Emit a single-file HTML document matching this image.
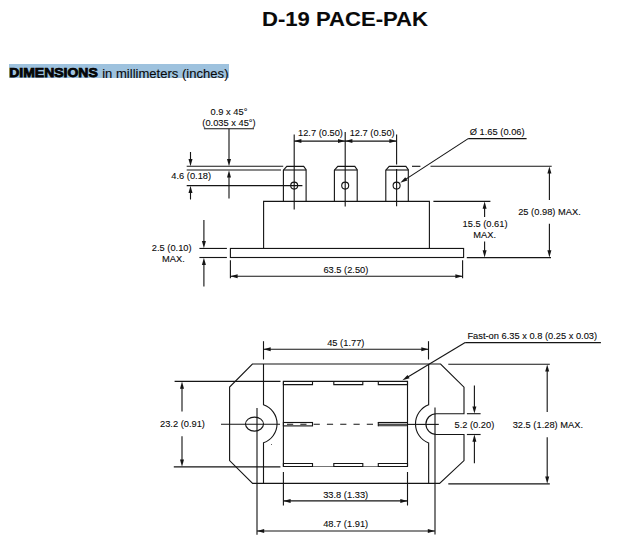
<!DOCTYPE html>
<html><head><meta charset="utf-8"><title>D-19 PACE-PAK</title>
<style>
html,body{margin:0;padding:0;background:#fff;}
body{width:638px;height:557px;overflow:hidden;}
svg{display:block;position:absolute;left:0;top:0;}
svg text{font-family:"Liberation Sans",Arial,sans-serif;fill:#0a0a0a;stroke:#0a0a0a;stroke-width:0.1px;}
</style></head><body>
<svg width="638" height="557" viewBox="0 0 638 557">
<rect x="9" y="64" width="220" height="14" fill="#9ec2de"/>
<text x="262" y="25.7" text-anchor="start" font-size="19.3" font-weight="bold" textLength="166" lengthAdjust="spacingAndGlyphs" >D-19 PACE-PAK</text>
<text x="9.2" y="77.25" text-anchor="start" font-size="12.3" font-weight="bold" textLength="88.6" lengthAdjust="spacingAndGlyphs" style="stroke:#000;stroke-width:0.75px">DIMENSIONS</text>
<text x="102.2" y="77.6" text-anchor="start" font-size="13.6" font-weight="normal" textLength="126.3" lengthAdjust="spacingAndGlyphs" >in millimeters (inches)</text>
<text x="229" y="115" text-anchor="middle" font-size="9.3" font-weight="normal" >0.9 x 45°</text>
<text x="229" y="125.6" text-anchor="middle" font-size="9.3" font-weight="normal" >(0.035 x 45°)</text>
<line x1="203.9" y1="128.8" x2="254" y2="128.8" stroke="#151515" stroke-width="1.12" />
<line x1="229" y1="128.8" x2="229" y2="160" stroke="#151515" stroke-width="1.12" />
<polygon points="229.00,166.20 227.00,159.00 231.00,159.00" fill="#151515"/>
<polygon points="229.00,170.30 231.00,177.50 227.00,177.50" fill="#151515"/>
<line x1="229" y1="176" x2="229" y2="198.5" stroke="#151515" stroke-width="1.12" />
<line x1="186.7" y1="166.3" x2="283.2" y2="166.3" stroke="#151515" stroke-width="1.12" />
<line x1="186.7" y1="170.0" x2="281" y2="170.0" stroke="#151515" stroke-width="1.12" />
<line x1="186.7" y1="185.6" x2="302.4" y2="185.6" stroke="#151515" stroke-width="1.12" />
<line x1="190.5" y1="152" x2="190.5" y2="160" stroke="#151515" stroke-width="1.12" />
<polygon points="190.50,166.20 188.50,159.00 192.50,159.00" fill="#151515"/>
<polygon points="190.50,185.80 192.50,193.00 188.50,193.00" fill="#151515"/>
<line x1="190.5" y1="192" x2="190.5" y2="199.5" stroke="#151515" stroke-width="1.12" />
<text x="171.3" y="179" text-anchor="start" font-size="9.3" font-weight="normal" >4.6 (0.18)</text>
<line x1="294.2" y1="134.6" x2="294.2" y2="209.4" stroke="#151515" stroke-width="1.12" />
<line x1="345.2" y1="132" x2="345.2" y2="206.5" stroke="#151515" stroke-width="1.12" />
<line x1="396.6" y1="134.6" x2="396.6" y2="164.5" stroke="#151515" stroke-width="1.12" />
<line x1="396.6" y1="169" x2="396.6" y2="206.3" stroke="#151515" stroke-width="1.12" />
<line x1="294.2" y1="141.1" x2="396.6" y2="141.1" stroke="#151515" stroke-width="1.12" />
<polygon points="294.20,141.10 301.40,139.10 301.40,143.10" fill="#151515"/>
<polygon points="345.20,141.10 338.00,143.10 338.00,139.10" fill="#151515"/>
<polygon points="345.20,141.10 352.40,139.10 352.40,143.10" fill="#151515"/>
<polygon points="396.60,141.10 389.40,143.10 389.40,139.10" fill="#151515"/>
<text x="298" y="136" text-anchor="start" font-size="9.3" font-weight="normal" >12.7 (0.50)</text>
<text x="349.7" y="136" text-anchor="start" font-size="9.3" font-weight="normal" >12.7 (0.50)</text>
<path d="M283.4,201.4 L283.4,170.2 L286.79999999999995,166.4 L303.70000000000005,166.4 L306.1,169.8 L306.1,201.4" stroke="#151515" stroke-width="1.12" fill="none" stroke-linejoin="miter"/>
<line x1="283.4" y1="170.0" x2="306.1" y2="170.0" stroke="#151515" stroke-width="1.12" />
<path d="M334.4,201.4 L334.4,170.2 L337.79999999999995,166.4 L354.8,166.4 L357.2,169.8 L357.2,201.4" stroke="#151515" stroke-width="1.12" fill="none" stroke-linejoin="miter"/>
<line x1="334.4" y1="170.0" x2="357.2" y2="170.0" stroke="#151515" stroke-width="1.12" />
<path d="M385.8,201.4 L385.8,170.2 L389.2,166.4 L405.90000000000003,166.4 L408.3,169.8 L408.3,201.4" stroke="#151515" stroke-width="1.12" fill="none" stroke-linejoin="miter"/>
<line x1="385.8" y1="170.0" x2="408.3" y2="170.0" stroke="#151515" stroke-width="1.12" />
<circle cx="294.2" cy="185.6" r="3.5" fill="none" stroke="#151515" stroke-width="1.12"/>
<circle cx="345.2" cy="185.6" r="3.5" fill="none" stroke="#151515" stroke-width="1.12"/>
<circle cx="396.6" cy="185.6" r="3.5" fill="none" stroke="#151515" stroke-width="1.12"/>
<path d="M263.6,248.4 L263.6,201.4 L429.4,201.4 L429.4,248.4" stroke="#151515" stroke-width="1.12" fill="none" stroke-linejoin="miter"/>
<rect x="230.4" y="248.45" width="233.2" height="9.05" fill="none" stroke="#151515" stroke-width="1.12"/>
<text x="469.8" y="135" text-anchor="start" font-size="9.3" font-weight="normal" >Ø 1.65 (0.06)</text>
<line x1="468.2" y1="138.6" x2="526.6" y2="138.6" stroke="#151515" stroke-width="1.12" />
<line x1="468.2" y1="138.6" x2="404" y2="180.4" stroke="#151515" stroke-width="1.12" />
<polygon points="400.30,182.80 405.24,177.20 407.43,180.55" fill="#151515"/>
<line x1="412" y1="166.3" x2="420.4" y2="166.3" stroke="#151515" stroke-width="1.12" />
<line x1="430.5" y1="166.3" x2="551.7" y2="166.3" stroke="#151515" stroke-width="1.12" />
<line x1="549.4" y1="172" x2="549.4" y2="200" stroke="#151515" stroke-width="1.12" />
<line x1="549.4" y1="223.8" x2="549.4" y2="252" stroke="#151515" stroke-width="1.12" />
<polygon points="549.40,166.40 551.40,173.60 547.40,173.60" fill="#151515"/>
<polygon points="549.40,257.40 547.40,250.20 551.40,250.20" fill="#151515"/>
<text x="518.2" y="215" text-anchor="start" font-size="9.3" font-weight="normal" >25 (0.98) MAX.</text>
<line x1="433.4" y1="201.4" x2="490.4" y2="201.4" stroke="#151515" stroke-width="1.12" />
<line x1="484.6" y1="207" x2="484.6" y2="217" stroke="#151515" stroke-width="1.12" />
<line x1="484.6" y1="241.4" x2="484.6" y2="252" stroke="#151515" stroke-width="1.12" />
<polygon points="484.60,201.50 486.60,208.70 482.60,208.70" fill="#151515"/>
<polygon points="484.60,257.40 482.60,250.20 486.60,250.20" fill="#151515"/>
<text x="462.6" y="226.8" text-anchor="start" font-size="9.3" font-weight="normal" >15.5 (0.61)</text>
<text x="473.3" y="237.7" text-anchor="start" font-size="9.3" font-weight="normal" >MAX.</text>
<line x1="466.8" y1="257.6" x2="551" y2="257.6" stroke="#151515" stroke-width="1.12" />
<line x1="199.4" y1="248.45" x2="226.9" y2="248.45" stroke="#151515" stroke-width="1.12" />
<line x1="199.4" y1="257.5" x2="226.9" y2="257.5" stroke="#151515" stroke-width="1.12" />
<line x1="203.9" y1="220" x2="203.9" y2="243" stroke="#151515" stroke-width="1.12" />
<polygon points="203.90,248.30 201.90,241.10 205.90,241.10" fill="#151515"/>
<polygon points="203.90,257.70 205.90,264.90 201.90,264.90" fill="#151515"/>
<line x1="203.9" y1="263" x2="203.9" y2="286.5" stroke="#151515" stroke-width="1.12" />
<text x="151.8" y="251.4" text-anchor="start" font-size="9.3" font-weight="normal" >2.5 (0.10)</text>
<text x="162" y="261.8" text-anchor="start" font-size="9.3" font-weight="normal" >MAX.</text>
<line x1="230.4" y1="260.3" x2="230.4" y2="278.2" stroke="#151515" stroke-width="1.12" />
<line x1="462.6" y1="260.3" x2="462.6" y2="278.2" stroke="#151515" stroke-width="1.12" />
<line x1="230.4" y1="276.2" x2="462.6" y2="276.2" stroke="#151515" stroke-width="1.12" />
<polygon points="230.40,276.20 237.60,274.20 237.60,278.20" fill="#151515"/>
<polygon points="462.60,276.20 455.40,278.20 455.40,274.20" fill="#151515"/>
<text x="323.4" y="272.6" text-anchor="start" font-size="9.3" font-weight="normal" >63.5 (2.50)</text>
<path d="M263.5,364 L252.4,364 L229.6,387.1 L229.6,460.6 L252.6,483.4 L439.6,483.4 L464,460.6 L464,434.5 L436.3,434.5 A10.4,10.4 0 0 1 436.3,413.7 L464,413.7 L464,387.2 L440.6,364 L263.5,364" stroke="#151515" stroke-width="1.12" fill="none" stroke-linejoin="miter"/>
<line x1="263.5" y1="341.2" x2="263.5" y2="359.5" stroke="#151515" stroke-width="1.12" />
<path d="M263.5,364 L263.5,404.8 A20.1,20.1 0 0 1 263.5,442.8 L263.5,483.4" stroke="#151515" stroke-width="1.12" fill="none" stroke-linejoin="miter"/>
<line x1="428.5" y1="341.2" x2="428.5" y2="359.5" stroke="#151515" stroke-width="1.12" />
<path d="M428.65,364 L428.65,404.8 A20.45,20.45 0 0 0 428.65,443 L428.65,483.4" stroke="#151515" stroke-width="1.12" fill="none" stroke-linejoin="miter"/>
<ellipse cx="254.5" cy="424.1" rx="9" ry="7" fill="none" stroke="#151515" stroke-width="1.12"/>
<line x1="257.0" y1="408" x2="257.0" y2="534.8" stroke="#151515" stroke-width="1.12" />
<line x1="435.0" y1="407.5" x2="435.0" y2="534.5" stroke="#151515" stroke-width="1.12" />
<line x1="221" y1="424.3" x2="280" y2="424.3" stroke="#151515" stroke-width="1.12" />
<line x1="407.5" y1="424.4" x2="438.8" y2="424.4" stroke="#151515" stroke-width="1.12" />
<circle cx="271.5" cy="444.5" r="0.5" fill="#333"/>
<path d="M283.4,466.6 L283.4,381.4 L407.5,381.4 L407.5,466.6" stroke="#151515" stroke-width="1.12" fill="none" stroke-linejoin="miter"/>
<line x1="283.4" y1="466.5" x2="407.5" y2="466.5" stroke="#151515" stroke-width="0.6" />
<path d="M283.4,381.4 L283.4,384.6 L312.5,384.6 L312.5,381.4" stroke="#151515" stroke-width="1.12" fill="none" stroke-linejoin="miter"/>
<path d="M283.4,466.45 L283.4,463.5 L312.5,463.5 L312.5,466.45 Z" stroke="#151515" stroke-width="1.12" fill="none" stroke-linejoin="miter"/>
<path d="M333.8,381.4 L333.8,384.6 L362.8,384.6 L362.8,381.4" stroke="#151515" stroke-width="1.12" fill="none" stroke-linejoin="miter"/>
<path d="M333.8,466.45 L333.8,463.5 L362.8,463.5 L362.8,466.45 Z" stroke="#151515" stroke-width="1.12" fill="none" stroke-linejoin="miter"/>
<path d="M378.3,381.4 L378.3,384.6 L407.5,384.6 L407.5,381.4" stroke="#151515" stroke-width="1.12" fill="none" stroke-linejoin="miter"/>
<path d="M378.3,466.45 L378.3,463.5 L407.5,463.5 L407.5,466.45 Z" stroke="#151515" stroke-width="1.12" fill="none" stroke-linejoin="miter"/>
<rect x="283.4" y="422.5" width="29.1" height="3.4" fill="none" stroke="#151515" stroke-width="1.12"/>
<line x1="378.3" y1="423.5" x2="407" y2="423.5" stroke="#c4c4c4" stroke-width="1" />
<line x1="378.3" y1="425.0" x2="407" y2="425.0" stroke="#4e4e4e" stroke-width="2" />
<line x1="378.3" y1="426.4" x2="407" y2="426.4" stroke="#b8b8b8" stroke-width="0.8" />
<line x1="377.8" y1="422.5" x2="407.5" y2="422.5" stroke="#151515" stroke-width="1.12" />
<line x1="378.3" y1="422.5" x2="378.3" y2="426.2" stroke="#151515" stroke-width="1.12" />
<line x1="287" y1="424.3" x2="378" y2="424.3" stroke="#151515" stroke-width="1.12" stroke-dasharray="6.2 7.1"/>
<line x1="174.6" y1="381.4" x2="280.5" y2="381.4" stroke="#151515" stroke-width="1.12" />
<line x1="173.8" y1="466.9" x2="280.4" y2="466.9" stroke="#151515" stroke-width="1.12" />
<polygon points="182.00,381.50 184.00,388.70 180.00,388.70" fill="#151515"/>
<line x1="182.0" y1="387" x2="182.0" y2="411.5" stroke="#151515" stroke-width="1.12" />
<polygon points="182.00,466.80 180.00,459.60 184.00,459.60" fill="#151515"/>
<line x1="182.0" y1="436.3" x2="182.0" y2="461" stroke="#151515" stroke-width="1.12" />
<text x="160" y="427" text-anchor="start" font-size="9.3" font-weight="normal" >23.2 (0.91)</text>
<line x1="263.5" y1="349.3" x2="428.5" y2="349.3" stroke="#151515" stroke-width="1.12" />
<polygon points="263.50,349.30 270.70,347.30 270.70,351.30" fill="#151515"/>
<polygon points="428.50,349.30 421.30,351.30 421.30,347.30" fill="#151515"/>
<text x="327.2" y="345.5" text-anchor="start" font-size="9.3" font-weight="normal" >45 (1.77)</text>
<text x="467.4" y="338.8" text-anchor="start" font-size="9.3" font-weight="normal" >Fast-on 6.35 x 0.8 (0.25 x 0.03)</text>
<line x1="465.2" y1="342.6" x2="600.9" y2="342.6" stroke="#151515" stroke-width="1.12" />
<line x1="465.2" y1="342.6" x2="407" y2="377.6" stroke="#151515" stroke-width="1.12" />
<polygon points="402.40,380.30 407.54,374.88 409.60,378.31" fill="#151515"/>
<line x1="448.3" y1="364.3" x2="549.8" y2="364.3" stroke="#151515" stroke-width="1.12" />
<line x1="448.3" y1="483.9" x2="549.8" y2="483.9" stroke="#151515" stroke-width="1.12" />
<line x1="547.2" y1="370" x2="547.2" y2="412" stroke="#151515" stroke-width="1.12" />
<line x1="547.2" y1="437.2" x2="547.2" y2="478" stroke="#151515" stroke-width="1.12" />
<polygon points="547.20,364.40 549.20,371.60 545.20,371.60" fill="#151515"/>
<polygon points="547.20,483.80 545.20,476.60 549.20,476.60" fill="#151515"/>
<text x="512.7" y="427.6" text-anchor="start" font-size="9.3" font-weight="normal" >32.5 (1.28) MAX.</text>
<line x1="466.9" y1="413.7" x2="480.6" y2="413.7" stroke="#151515" stroke-width="1.12" />
<line x1="466.9" y1="434.5" x2="480.6" y2="434.5" stroke="#151515" stroke-width="1.12" />
<line x1="474.4" y1="385.5" x2="474.4" y2="408" stroke="#151515" stroke-width="1.12" />
<polygon points="474.40,413.60 472.40,406.40 476.40,406.40" fill="#151515"/>
<polygon points="474.40,434.60 476.40,441.80 472.40,441.80" fill="#151515"/>
<line x1="474.4" y1="440" x2="474.4" y2="463.3" stroke="#151515" stroke-width="1.12" />
<text x="454.5" y="427.7" text-anchor="start" font-size="9.3" font-weight="normal" >5.2 (0.20)</text>
<line x1="283.4" y1="472" x2="283.4" y2="505.5" stroke="#151515" stroke-width="1.12" />
<line x1="407.5" y1="472" x2="407.5" y2="505.5" stroke="#151515" stroke-width="1.12" />
<line x1="283.4" y1="500.9" x2="407.5" y2="500.9" stroke="#151515" stroke-width="1.12" />
<polygon points="283.40,500.90 290.60,498.90 290.60,502.90" fill="#151515"/>
<polygon points="407.50,500.90 400.30,502.90 400.30,498.90" fill="#151515"/>
<text x="323.2" y="497.7" text-anchor="start" font-size="9.3" font-weight="normal" >33.8 (1.33)</text>
<line x1="257" y1="531" x2="435" y2="531" stroke="#151515" stroke-width="1.12" />
<polygon points="257.00,531.00 264.20,529.00 264.20,533.00" fill="#151515"/>
<polygon points="435.00,531.00 427.80,533.00 427.80,529.00" fill="#151515"/>
<text x="323.2" y="527" text-anchor="start" font-size="9.3" font-weight="normal" >48.7 (1.91)</text>
</svg>
</body></html>
